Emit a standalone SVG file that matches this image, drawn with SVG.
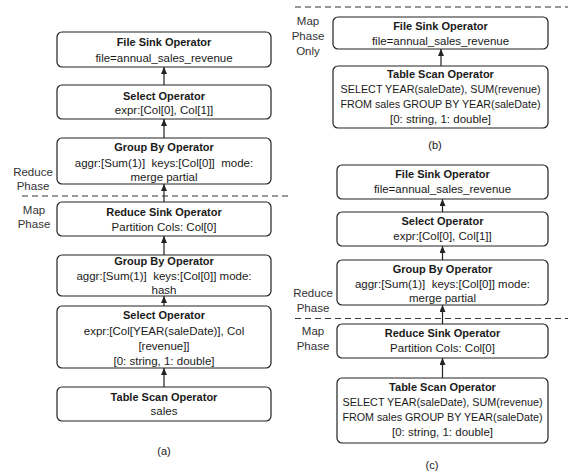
<svg xmlns="http://www.w3.org/2000/svg" width="568" height="475" viewBox="0 0 568 475">
<style>
.box{fill:#fff;stroke:#222;stroke-width:1.2}
text{font-family:"Liberation Sans",Arial,sans-serif;font-size:11.5px;fill:#1a1a1a;text-anchor:middle}
.b{font-weight:bold;font-size:11px}
.lab{fill:#333}
.cap{font-size:11px}
.dash{stroke:#333;stroke-width:1.2;stroke-dasharray:6 4;fill:none}
.conn{stroke:#222;stroke-width:1.2;fill:none;marker-end:url(#ah)}
</style>
<defs>
<marker id="ah" markerUnits="userSpaceOnUse" markerWidth="7" markerHeight="6" refX="7" refY="3" orient="auto">
<path d="M0,0 L7,3 L0,6 z" fill="#222"/>
</marker>
</defs>

<g id="phase-lines">
<line class="dash" x1="22" y1="196" x2="292" y2="196"/>
<line class="dash" x1="295" y1="7" x2="568" y2="7"/>
<line class="dash" x1="295" y1="318.5" x2="568" y2="318.5"/>
</g>

<g id="phase-labels">
<text class="lab" x="33" y="176">Reduce</text>
<text class="lab" x="33" y="190">Phase</text>
<text class="lab" x="34" y="214">Map</text>
<text class="lab" x="34" y="228">Phase</text>
<text class="lab" x="308" y="25">Map</text>
<text class="lab" x="308" y="40">Phase</text>
<text class="lab" x="308" y="55">Only</text>
<text class="lab" x="313" y="297">Reduce</text>
<text class="lab" x="313" y="312">Phase</text>
<text class="lab" x="313" y="335">Map</text>
<text class="lab" x="313" y="350">Phase</text>
</g>

<g id="connectors">
<line class="conn" x1="164" y1="387" x2="164" y2="368"/>
<line class="conn" x1="164" y1="306" x2="164" y2="296"/>
<line class="conn" x1="164" y1="255" x2="164" y2="236"/>
<line class="conn" x1="164" y1="202" x2="164" y2="184"/>
<line class="conn" x1="164" y1="138" x2="164" y2="119"/>
<line class="conn" x1="164" y1="85" x2="164" y2="67"/>
<line class="conn" x1="441" y1="66" x2="441" y2="49"/>
<line class="conn" x1="442.5" y1="378" x2="442.5" y2="358"/>
<line class="conn" x1="442.5" y1="324" x2="442.5" y2="305"/>
<line class="conn" x1="442.5" y1="260" x2="442.5" y2="246"/>
<line class="conn" x1="442.5" y1="212" x2="442.5" y2="199"/>
</g>

<!-- (a) -->
<g id="a-filesink">
<rect class="box" x="57" y="32" width="214" height="35" rx="5"/>
<text class="b" x="164" y="46">File Sink Operator</text>
<text x="164" y="62">file=annual_sales_revenue</text>
</g>
<g id="a-select">
<rect class="box" x="57" y="85" width="214" height="34" rx="5"/>
<text class="b" x="164" y="100">Select Operator</text>
<text x="164" y="114">expr:[Col[0], Col[1]]</text>
</g>
<g id="a-groupby-reduce">
<rect class="box" x="57" y="138" width="214" height="46" rx="5"/>
<text class="b" x="164" y="151">Group By Operator</text>
<text x="164" y="167" xml:space="preserve">aggr:[Sum(1)]  keys:[Col[0]]  mode:</text>
<text x="164" y="181">merge partial</text>
</g>
<g id="a-reducesink">
<rect class="box" x="57" y="202" width="214" height="34" rx="5"/>
<text class="b" x="164" y="216">Reduce Sink Operator</text>
<text x="164" y="231">Partition Cols: Col[0]</text>
</g>
<g id="a-groupby-map">
<rect class="box" x="57" y="255" width="214" height="41" rx="5"/>
<text class="b" x="164" y="265">Group By Operator</text>
<text x="164" y="280" xml:space="preserve">aggr:[Sum(1)]  keys:[Col[0]] mode:</text>
<text x="164" y="294">hash</text>
</g>
<g id="a-select-map">
<rect class="box" x="57" y="306" width="214" height="62" rx="5"/>
<text class="b" x="164" y="319">Select Operator</text>
<text x="164" y="335">expr:[Col[YEAR(saleDate)], Col</text>
<text x="164" y="350">[revenue]]</text>
<text x="164" y="365">[0: string, 1: double]</text>
</g>
<g id="a-tablescan">
<rect class="box" x="57" y="387" width="214" height="34" rx="5"/>
<text class="b" x="164" y="401">Table Scan Operator</text>
<text x="164" y="415">sales</text>
</g>
<text class="cap" x="164" y="455">(a)</text>

<!-- (b) -->
<g id="b-filesink">
<rect class="box" x="333" y="17" width="215" height="32" rx="5"/>
<text class="b" x="440.5" y="30">File Sink Operator</text>
<text x="440.5" y="45">file=annual_sales_revenue</text>
</g>
<g id="b-tablescan">
<rect class="box" x="333" y="66" width="215" height="62" rx="5"/>
<text class="b" x="440.5" y="78">Table Scan Operator</text>
<text x="440.5" y="93" textLength="200" lengthAdjust="spacingAndGlyphs">SELECT YEAR(saleDate), SUM(revenue)</text>
<text x="440.5" y="108" textLength="200" lengthAdjust="spacingAndGlyphs">FROM sales GROUP BY YEAR(saleDate)</text>
<text x="440.5" y="123">[0: string, 1: double]</text>
</g>
<text class="cap" x="435" y="149">(b)</text>

<!-- (c) -->
<g id="c-filesink">
<rect class="box" x="337" y="165" width="211" height="34" rx="5"/>
<text class="b" x="442.5" y="178">File Sink Operator</text>
<text x="442.5" y="193">file=annual_sales_revenue</text>
</g>
<g id="c-select">
<rect class="box" x="337" y="212" width="211" height="34" rx="5"/>
<text class="b" x="442.5" y="225">Select Operator</text>
<text x="442.5" y="240">expr:[Col[0], Col[1]]</text>
</g>
<g id="c-groupby">
<rect class="box" x="337" y="260" width="211" height="45" rx="5"/>
<text class="b" x="442.5" y="273">Group By Operator</text>
<text x="442.5" y="288" xml:space="preserve">aggr:[Sum(1)]  keys:[Col[0]] mode:</text>
<text x="442.5" y="302">merge partial</text>
</g>
<g id="c-reducesink">
<rect class="box" x="337" y="324" width="211" height="34" rx="5"/>
<text class="b" x="442.5" y="337">Reduce Sink Operator</text>
<text x="442.5" y="352">Partition Cols: Col[0]</text>
</g>
<g id="c-tablescan">
<rect class="box" x="337" y="378" width="211" height="65" rx="5"/>
<text class="b" x="442.5" y="391">Table Scan Operator</text>
<text x="442.5" y="406" textLength="200" lengthAdjust="spacingAndGlyphs">SELECT YEAR(saleDate), SUM(revenue)</text>
<text x="442.5" y="421" textLength="200" lengthAdjust="spacingAndGlyphs">FROM sales GROUP BY YEAR(saleDate)</text>
<text x="442.5" y="436">[0: string, 1: double]</text>
</g>
<text class="cap" x="432" y="469">(c)</text>
</svg>
